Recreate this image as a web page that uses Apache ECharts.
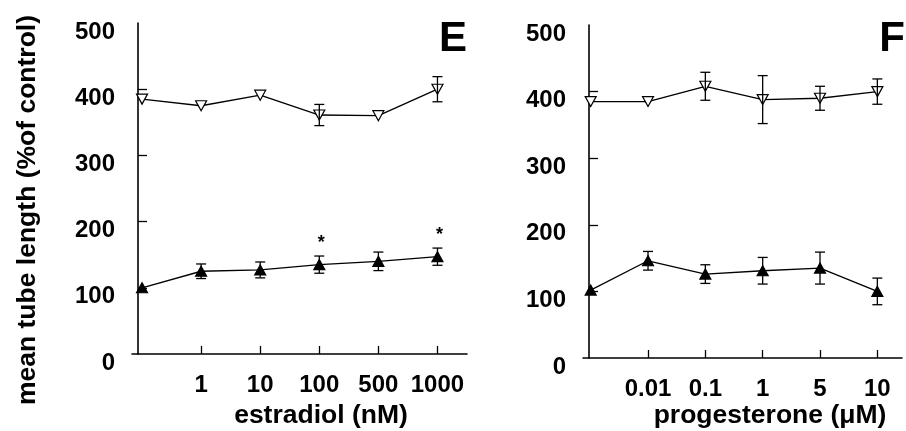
<!DOCTYPE html>
<html>
<head>
<meta charset="utf-8">
<script src="https://cdn.jsdelivr.net/npm/echarts@6/dist/echarts.min.js"></script>
<style>html,body{margin:0;padding:0;background:#fff}#c{width:906px;height:431px}</style>
</head>
<body>
<div id="c"></div>
<script>
// ---- data ----
var estradiolLabels = ['', '1', '10', '100', '500', '1000'];
var estOpen = [385, 375, 391, 361, 360, 400];
var estOpenErr = [0, 0, 0, 16, 0, 19];
var estFilled = [100, 125, 127, 135, 140, 147];
var estFilledErr = [0, 11, 12, 13, 14, 13];
var estStars = [3, 5];

var progesteroneLabels = ['', '0.01', '0.1', '1', '5', '10'];
var progOpen = [385, 385, 408, 388, 390, 400];
var progOpenErr = [0, 0, 21, 36, 18, 19];
var progFilled = [102, 146, 126, 131, 135, 100];
var progFilledErr = [0, 14, 14, 20, 24, 20];

var yTicks = [0, 100, 200, 300, 400, 500];

var FONT = 'Liberation Sans, Arial, Helvetica, sans-serif';

function pts(vals) { return vals.map(function (v, i) { return [i, v]; }); }
function errPts(vals, errs) {
  var out = [];
  vals.forEach(function (v, i) { if (errs[i] > 0) out.push([i, v, errs[i]]); });
  return out;
}
function errRender(params, api) {
  var x = api.value(0), y = api.value(1), e = api.value(2);
  var t = api.coord([x, y + e]), b = api.coord([x, y - e]);
  var w = 5;
  var st = { stroke: '#000', lineWidth: 1.3 };
  return { type: 'group', children: [
    { type: 'line', shape: { x1: t[0], y1: t[1], x2: b[0], y2: b[1] }, style: st },
    { type: 'line', shape: { x1: t[0] - w, y1: t[1], x2: t[0] + w, y2: t[1] }, style: st },
    { type: 'line', shape: { x1: b[0] - w, y1: b[1], x2: b[0] + w, y2: b[1] }, style: st }
  ]};
}
function starRender(params, api) {
  var p = api.coord([api.value(0), api.value(1)]);
  return { type: 'text', x: p[0] + 2, y: p[1] - 4,
    style: { text: '*', fill: '#000', font: 'bold 18px ' + FONT, textAlign: 'center', textVerticalAlign: 'bottom' } };
}

function xAxisDef(gi, min, max, labels) {
  return {
    type: 'value', gridIndex: gi, min: min, max: max,
    splitLine: { show: false },
    axisLine: { onZero: false, lineStyle: { color: '#000', width: 1.6 } },
    axisTick: { inside: true, length: 8, customValues: [1, 2, 3, 4, 5], lineStyle: { color: '#000', width: 1.3 } },
    axisLabel: { customValues: [1, 2, 3, 4, 5], margin: 19, color: '#000', fontFamily: FONT, fontWeight: 'bold', fontSize: 24,
      formatter: function (v) { return labels[Math.round(v)]; } }
  };
}
function yAxisDef(gi) {
  return {
    type: 'value', gridIndex: gi, min: 0, max: 500, offset: -6,
    splitLine: { show: false },
    axisLine: { show: true, onZero: false, lineStyle: { color: '#000', width: 1.6 } },
    axisTick: { show: true, inside: true, length: 9, customValues: [100, 200, 300, 400], lineStyle: { color: '#000', width: 1.3 } },
    axisLabel: { customValues: yTicks, margin: 23, verticalAlign: 'top', lineHeight: 18, color: '#000', fontFamily: FONT, fontWeight: 'bold', fontSize: 24 }
  };
}
function lineSeries(gi, vals, open) {
  return {
    type: 'line', xAxisIndex: gi, yAxisIndex: gi, data: pts(vals),
    symbol: 'triangle', symbolSize: [11, 10], symbolRotate: open ? 180 : 0,
    itemStyle: { color: open ? '#fff' : '#000', borderColor: '#000', borderWidth: 1.2 },
    lineStyle: { color: '#000', width: 1.3 },
    z: 3, animation: false
  };
}
function errSeries(gi, vals, errs) {
  return { type: 'custom', xAxisIndex: gi, yAxisIndex: gi, data: errPts(vals, errs), renderItem: errRender, z: 4, animation: false };
}
function starSeries(gi, vals, errs, idx) {
  return { type: 'custom', xAxisIndex: gi, yAxisIndex: gi,
    data: idx.map(function (i) { return [i, vals[i] + errs[i]]; }), renderItem: starRender, z: 5, animation: false };
}

var chart = echarts.init(document.getElementById('c'));
chart.setOption({
  backgroundColor: '#fff',
  animation: false,
  grid: [
    { left: 132, top: 23, width: 335, height: 331 },
    { left: 583, top: 25, width: 319, height: 333 }
  ],
  xAxis: [xAxisDef(0, -0.17, 5.5, estradiolLabels), xAxisDef(1, -0.134, 5.43, progesteroneLabels)],
  yAxis: [yAxisDef(0), yAxisDef(1)],
  series: [
    lineSeries(0, estOpen, true), errSeries(0, estOpen, estOpenErr),
    lineSeries(0, estFilled, false), errSeries(0, estFilled, estFilledErr),
    starSeries(0, estFilled, estFilledErr, estStars),
    lineSeries(1, progOpen, true), errSeries(1, progOpen, progOpenErr),
    lineSeries(1, progFilled, false), errSeries(1, progFilled, progFilledErr)
  ],
  graphic: [
    { type: 'text', x: 28, y: 210, rotation: Math.PI / 2,
      style: { text: 'mean tube length (%of control)', fill: '#000', font: 'bold 26.5px ' + FONT, textAlign: 'center', textVerticalAlign: 'middle' } },
    { type: 'text', x: 321, y: 416,
      style: { text: 'estradiol (nM)', fill: '#000', font: 'bold 26.5px ' + FONT, textAlign: 'center', textVerticalAlign: 'middle' } },
    { type: 'text', x: 770, y: 416,
      style: { text: 'progesterone (\u03bcM)', fill: '#000', font: 'bold 26.5px ' + FONT, textAlign: 'center', textVerticalAlign: 'middle' } },
    { type: 'text', x: 453, y: 39,
      style: { text: 'E', fill: '#000', font: 'bold 42px ' + FONT, textAlign: 'center', textVerticalAlign: 'middle' } },
    { type: 'text', x: 892, y: 39,
      style: { text: 'F', fill: '#000', font: 'bold 42px ' + FONT, textAlign: 'center', textVerticalAlign: 'middle' } }
  ]
});
</script>
</body>
</html>
